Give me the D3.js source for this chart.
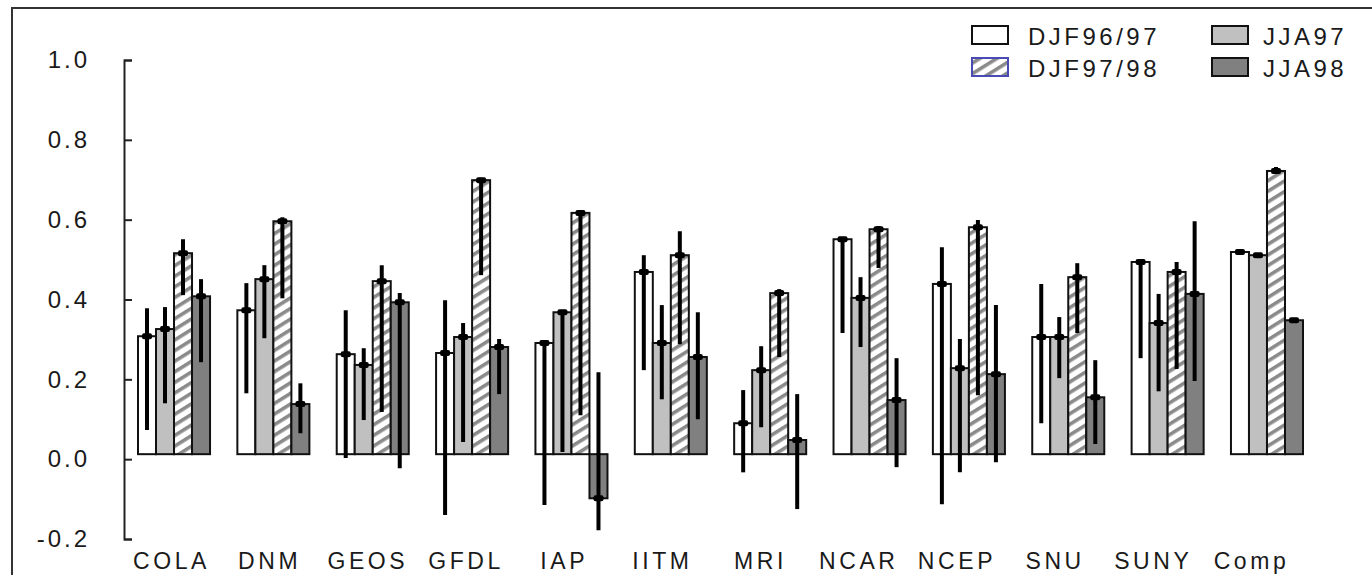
<!DOCTYPE html>
<meta charset="utf-8">
<script src="https://d3js.org/d3.v7.min.js"></script>
<style>
  body { margin: 0; background: #fff; }
  text { font-family: "Liberation Sans", Arial, sans-serif; fill: #1a1a1a; }
</style>
<div id="container"></div>
<script>
  // page size
  width = 1372
  height = 575

  // data
  var categories = ["COLA", "DNM", "GEOS", "GFDL", "IAP", "IITM", "MRI", "NCAR", "NCEP", "SNU", "SUNY", "Comp"];
  var seriesNames = ["DJF96/97", "JJA97", "DJF97/98", "JJA98"];
  var yTicks = [-0.2, 0.0, 0.2, 0.4, 0.6, 0.8, 1.0];

  var djf9697   = [0.308, 0.373, 0.263, 0.266, 0.291, 0.469, 0.090, 0.551, 0.439, 0.306, 0.494, 0.519];
  var djf9697Lo = [0.073, 0.165, 0.003, -0.140, -0.115, 0.223, -0.033, 0.316, -0.113, 0.090, 0.253, 0.514];
  var djf9697Hi = [0.378, 0.441, 0.373, 0.398, 0.296, 0.511, 0.173, 0.554, 0.531, 0.439, 0.496, 0.526];

  var jja97   = [0.326, 0.451, 0.236, 0.306, 0.368, 0.291, 0.223, 0.404, 0.228, 0.306, 0.341, 0.511];
  var jja97Lo = [0.140, 0.303, 0.098, 0.043, 0.018, 0.150, 0.080, 0.281, -0.033, 0.203, 0.170, 0.508];
  var jja97Hi = [0.381, 0.486, 0.278, 0.341, 0.373, 0.386, 0.283, 0.456, 0.301, 0.356, 0.414, 0.514];

  var djf9798   = [0.516, 0.596, 0.446, 0.699, 0.617, 0.511, 0.416, 0.576, 0.581, 0.456, 0.469, 0.722];
  var djf9798Lo = [0.411, 0.403, 0.118, 0.461, 0.110, 0.288, 0.256, 0.479, 0.160, 0.316, 0.226, 0.718];
  var djf9798Hi = [0.551, 0.606, 0.486, 0.705, 0.622, 0.571, 0.426, 0.584, 0.599, 0.491, 0.494, 0.732];

  var jja98   = [0.408, 0.138, 0.393, 0.281, -0.098, 0.256, 0.048, 0.148, 0.213, 0.155, 0.414, 0.348];
  var jja98Lo = [0.243, 0.065, -0.023, 0.163, -0.178, 0.100, -0.125, -0.020, -0.008, 0.038, 0.196, 0.345];
  var jja98Hi = [0.451, 0.190, 0.416, 0.301, 0.218, 0.368, 0.163, 0.253, 0.386, 0.248, 0.596, 0.352];

  // bars in the original start a hair above zero
  var baseValue = 0.0125;

  var seriesData = [
    { name: "DJF96/97", mean: djf9697, lo: djf9697Lo, hi: djf9697Hi, fill: "#ffffff" },
    { name: "JJA97",    mean: jja97,   lo: jja97Lo,   hi: jja97Hi,   fill: "#c0c0c0" },
    { name: "DJF97/98", mean: djf9798, lo: djf9798Lo, hi: djf9798Hi, fill: "url(#hatch)" },
    { name: "JJA98",    mean: jja98,   lo: jja98Lo,   hi: jja98Hi,   fill: "#808080" }
  ];

  var svg = d3.select("#container").append("svg")
    .attr("width", width)
    .attr("height", height);

  // hatch pattern for DJF97/98
  var pat = svg.append("defs").append("pattern")
    .attr("id", "hatch")
    .attr("patternUnits", "userSpaceOnUse")
    .attr("width", 9)
    .attr("height", 9)
    .attr("patternTransform", "rotate(-32)");
  pat.append("rect").attr("width", 9).attr("height", 9).attr("fill", "#ffffff");
  pat.append("rect").attr("width", 9).attr("height", 3.6).attr("fill", "#8a8a8a");

  // outer frame (left + top only visible)
  svg.append("path")
    .attr("d", "M12," + height + "V8H" + width)
    .attr("fill", "none")
    .attr("stroke", "#333")
    .attr("stroke-width", 2);

  // scales
  var y = d3.scaleLinear().domain([-0.2, 1.0]).range([539, 60]);
  var x0 = d3.scaleBand().domain(categories).range([138, 1303]).paddingInner(0.275).paddingOuter(0);
  var x1 = d3.scaleBand().domain(seriesNames).range([0, x0.bandwidth()]);
  var xLabel = d3.scalePoint().domain(categories).range([171, 1251]);

  // y axis, ticks pointing inward, plain hyphen for minus
  var fmt = d3.format(".1f");
  var yAxis = svg.append("g")
    .attr("transform", "translate(124,0)")
    .call(d3.axisRight(y).tickValues(yTicks).tickSize(8)
      .tickFormat(function(d) { return fmt(d).replace("\u2212", "-"); }));
  yAxis.select(".domain").attr("stroke", "#222").attr("stroke-width", 2);
  yAxis.selectAll(".tick line").attr("stroke", "#222").attr("stroke-width", 2);
  yAxis.selectAll(".tick text")
    .attr("x", -34)
    .attr("text-anchor", "end")
    .attr("font-size", 24)
    .attr("letter-spacing", 3)
    .attr("fill", "#1a1a1a");

  // x labels
  var xAxis = svg.append("g")
    .attr("transform", "translate(0,569)")
    .call(d3.axisBottom(xLabel).tickSize(0));
  xAxis.select(".domain").remove();
  xAxis.selectAll(".tick text")
    .attr("y", 0)
    .attr("dy", 0)
    .attr("font-size", 23)
    .attr("letter-spacing", 3.6)
    .attr("fill", "#1a1a1a");

  // bars
  var groups = svg.append("g").selectAll("g")
    .data(categories)
    .join("g")
    .attr("transform", function(d) { return "translate(" + x0(d) + ",0)"; });

  seriesData.forEach(function(s) {
    groups.append("rect")
      .attr("x", x1(s.name))
      .attr("width", x1.bandwidth())
      .attr("y", function(d, i) { return y(Math.max(s.mean[i], baseValue)); })
      .attr("height", function(d, i) { return Math.abs(y(s.mean[i]) - y(baseValue)); })
      .attr("fill", s.fill)
      .attr("stroke", "#111")
      .attr("stroke-width", 2);
  });

  // error bars and markers
  seriesData.forEach(function(s) {
    var cx = x1(s.name) + x1.bandwidth() / 2;
    groups.append("line")
      .attr("x1", cx).attr("x2", cx)
      .attr("y1", function(d, i) { return y(s.hi[i]); })
      .attr("y2", function(d, i) { return y(s.lo[i]); })
      .attr("stroke", "#000")
      .attr("stroke-width", 4);
    groups.append("rect")
      .attr("x", cx - 5)
      .attr("y", function(d, i) { return y(s.mean[i]) - 3; })
      .attr("width", 10)
      .attr("height", 6)
      .attr("rx", 2)
      .attr("fill", "#000");
  });

  // legend
  var legendPos = [
    { bx: 972, by: 26, tx: 1028, ty: 45 },
    { bx: 1212, by: 26, tx: 1263, ty: 45 },
    { bx: 972, by: 58, tx: 1028, ty: 77 },
    { bx: 1212, by: 58, tx: 1263, ty: 77 }
  ];
  var legend = svg.append("g");
  seriesData.forEach(function(s, i) {
    var p = legendPos[i];
    legend.append("rect")
      .attr("x", p.bx).attr("y", p.by)
      .attr("width", 36).attr("height", 18)
      .attr("fill", s.fill)
      .attr("stroke", s.name == "DJF97/98" ? "#4a4ab4" : "#111")
      .attr("stroke-width", 2);
    legend.append("text")
      .attr("x", p.tx).attr("y", p.ty)
      .attr("font-size", 24)
      .attr("letter-spacing", 3.5)
      .text(s.name);
  });
</script>
